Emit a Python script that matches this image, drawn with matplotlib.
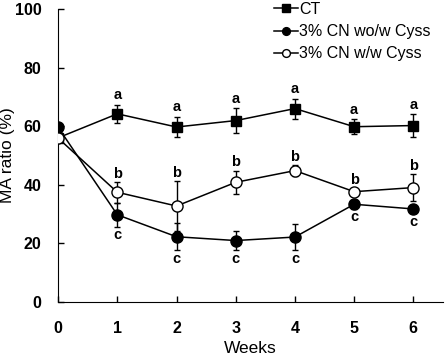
import matplotlib
matplotlib.use("Agg")
from matplotlib import pyplot as plt
import numpy as np

plt.rcParams['font.family'] = ['Liberation Sans', 'DejaVu Sans']

weeks = [0, 1, 2, 3, 4, 5, 6]

ct = [56.0, 64.2, 59.7, 61.9, 66.0, 59.8, 60.2]
ct_sd = [0, 3.0, 3.5, 4.2, 3.4, 2.5, 3.8]

cn_wo = [59.6, 29.7, 22.2, 20.9, 22.1, 33.3, 31.7]
cn_wo_sd = [0, 4.0, 4.6, 3.4, 4.5, 1.5, 1.5]

cn_w = [55.9, 37.4, 32.7, 40.8, 44.8, 37.6, 39.0]
cn_w_sd = [0, 3.5, 8.5, 4.0, 1.8, 1.2, 4.5]

letters_ct = ['', 'a', 'a', 'a', 'a', 'a', 'a']
letters_w = ['', 'b', 'b', 'b', 'b', 'b', 'b']
letters_wo = ['', 'c', 'c', 'c', 'c', 'c', 'c']

fig = plt.figure(figsize=(4.47, 3.56), dpi=100)
ax = fig.add_axes([0.130, 0.1525, 0.861, 0.822])

e1 = ax.errorbar(weeks, ct, yerr=ct_sd, color='black', marker='s', markersize=7.5,
                 lw=1.1, elinewidth=1, capsize=2, label='CT', zorder=3)
e2 = ax.errorbar(weeks, cn_wo, yerr=cn_wo_sd, color='black', marker='o', markersize=8,
                 lw=1.1, elinewidth=1, capsize=2, label='3% CN wo/w Cyss', zorder=3)
e3 = ax.errorbar(weeks, cn_w, yerr=cn_w_sd, color='black', marker='o', markersize=8,
                 markerfacecolor='white', lw=1.1, elinewidth=1, capsize=2,
                 label='3% CN w/w Cyss', zorder=4)

# significance letters
for x, y, s, t in zip(weeks, ct, ct_sd, letters_ct):
    if t:
        ax.annotate(t, (x, y + s), xytext=(0, 2), textcoords='offset points',
                    ha='center', va='bottom', fontsize=10.5, fontweight='bold')
for x, y, s, t in zip(weeks, cn_w, cn_w_sd, letters_w):
    if t:
        ax.annotate(t, (x, y + s), xytext=(0, 1), textcoords='offset points',
                    ha='center', va='bottom', fontsize=10.5, fontweight='bold')
for x, y, s, t in zip(weeks, cn_wo, cn_wo_sd, letters_wo):
    if t:
        ax.annotate(t, (x, y - s), xytext=(0, -1), textcoords='offset points',
                    ha='center', va='top', fontsize=10.5, fontweight='bold')

ax.set_xlim(0, 6.5)
ax.set_ylim(0, 100)
ax.set_xticks(weeks)
ax.set_yticks([0, 20, 40, 60, 80, 100])
ax.tick_params(direction='in', length=4, width=1, labelsize=11.5)
ax.tick_params(axis='y', pad=12)
ax.tick_params(axis='x', pad=14)
for lab in ax.get_xticklabels() + ax.get_yticklabels():
    lab.set_fontweight('bold')
ax.spines['top'].set_visible(False)
ax.spines['right'].set_visible(False)

ax.set_xlabel('Weeks', fontsize=12.5)
ax.set_ylabel('MA ratio (%)', fontsize=12.5)
ax.xaxis.set_label_coords(0.5, -0.133)
ax.yaxis.set_label_coords(-0.112, 0.5)

ax.legend(handles=[e1.lines[0], e2.lines[0], e3.lines[0]],
          labels=['CT', '3% CN wo/w Cyss', '3% CN w/w Cyss'],
          loc='upper left', bbox_to_anchor=(274 / 447, 1 - 2 / 356),
          bbox_transform=fig.transFigure, frameon=False, borderpad=0,
          borderaxespad=0, fontsize=11.5, handlelength=1.5, handletextpad=0.05,
          markerscale=0.7, labelspacing=0.45)

fig.savefig('out.png', dpi=100)
